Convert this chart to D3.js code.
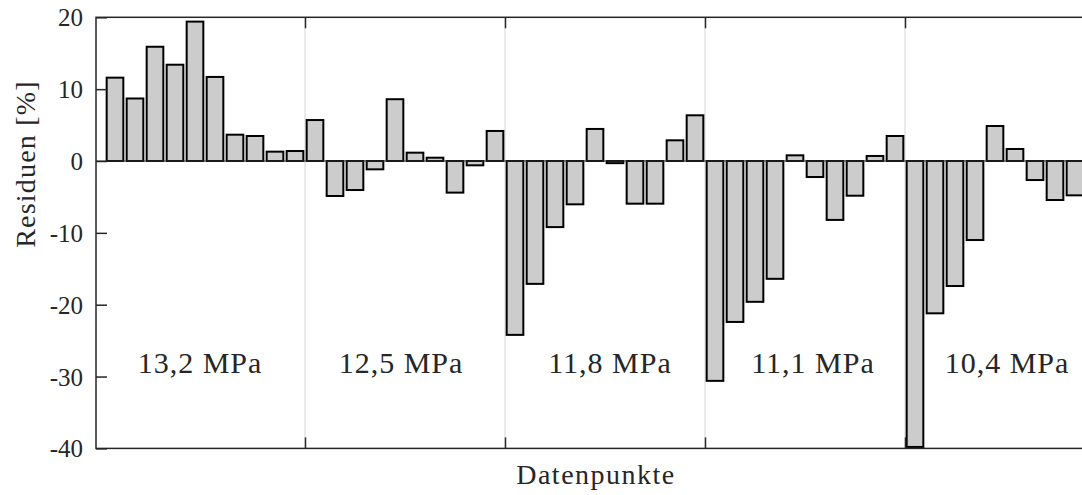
<!DOCTYPE html>
<html>
<head>
<meta charset="utf-8">
<script src="https://cdn.jsdelivr.net/npm/d3@7"></script>
<style>
  body { margin: 0; background: #fff; }
  svg { display: block; }
  svg text { font-family: "Liberation Serif", "DejaVu Serif", serif; }
</style>
</head>
<body>
<div class="canvas"></div>
<script>
// residuals per data point (%)
const residuals = [
  11.6, 8.7, 15.9, 13.4, 19.4, 11.7, 3.66, 3.48, 1.3, 1.39,
  5.7, -4.87, -4.04, -1.16, 8.6, 1.16, 0.46, -4.4, -0.6, 4.18,
  -24.2, -17.1, -9.2, -6.03, 4.46, -0.3, -5.94, -5.94, 2.88, 6.36,
  -30.6, -22.4, -19.6, -16.4, 0.79, -2.23, -8.2, -4.83, 0.7, 3.48,
  -39.8, -21.2, -17.4, -11.0, 4.87, 1.67, -2.65, -5.43, -4.78
];
const points = residuals.map((d, i) => i + 1);

const yTicks = [-40, -30, -20, -10, 0, 10, 20];
const groupBounds = [10.5, 20.5, 30.5, 40.5];
const groupLabels = ['13,2 MPa', '12,5 MPa', '11,8 MPa', '11,1 MPa', '10,4 MPa'];
const groupLabelX = [5.25, 15.3, 25.75, 35.9, 45.6];
const groupLabelY = -29.5;

const width = 1082, height = 495;
const margin = {top: 17.3, left: 96}
const plotRight = 1094, plotBottom = 448.4;
const serif = '"Liberation Serif", "DejaVu Serif", serif';

const svg = d3.select('.canvas')
  .append('svg')
  .attr('width', width)
  .attr('height', height);

const x = d3.scaleLinear().domain([0.05, 49.95]).range([margin.left, plotRight]);
const y = d3.scaleLinear().domain([-40, 20]).range([plotBottom, margin.top]);
const barW = x(0.833) - x(0);

// light separators between pressure groups
svg.append('g')
  .selectAll('line')
  .data(groupBounds)
  .enter().append('line')
  .attr('x1', d => x(d)).attr('x2', d => x(d))
  .attr('y1', margin.top).attr('y2', plotBottom)
  .attr('stroke', '#e3e3e3')
  .attr('stroke-width', 1.5);

// bars
svg.append('g')
  .selectAll('rect')
  .data(residuals)
  .enter().append('rect')
  .attr('x', (d, i) => x(points[i]) - barW / 2)
  .attr('width', barW)
  .attr('y', d => y(Math.max(d, 0)))
  .attr('height', d => Math.abs(y(d) - y(0)))
  .attr('fill', '#cccccc')
  .attr('stroke', '#000')
  .attr('stroke-width', 2);

// baseline
svg.append('line')
  .attr('x1', margin.left).attr('x2', plotRight)
  .attr('y1', y(0)).attr('y2', y(0))
  .attr('stroke', '#333')
  .attr('stroke-width', 1.2);

// axes
const styleAxis = g => {
  g.attr('font-family', null).attr('font-size', null);
  g.select('.domain').remove();
  g.selectAll('.tick line').attr('stroke', '#262626').attr('stroke-width', 1.5);
  g.selectAll('.tick text').attr('fill', '#262626');
}

svg.append('g')
  .attr('transform', `translate(${margin.left},0)`)
  .call(d3.axisLeft(y).tickValues(yTicks).tickSize(-11).tickPadding(13).tickFormat(d => String(d)))
  .call(styleAxis)
  .call(g => g.selectAll('.tick text')
    .style('font-family', serif)
    .style('font-size', '25px')
    .attr('dy', '0.34em'));

svg.append('g')
  .attr('transform', `translate(${plotRight},0)`)
  .call(d3.axisRight(y).tickValues(yTicks).tickSize(-11).tickFormat(''))
  .call(styleAxis);

svg.append('g')
  .attr('transform', `translate(0,${plotBottom})`)
  .call(d3.axisBottom(x).tickValues(groupBounds).tickSize(-11).tickFormat(''))
  .call(styleAxis);

svg.append('g')
  .attr('transform', `translate(0,${margin.top})`)
  .call(d3.axisTop(x).tickValues(groupBounds).tickSize(-11).tickFormat(''))
  .call(styleAxis);

// box
svg.append('rect')
  .attr('x', margin.left).attr('y', margin.top)
  .attr('width', plotRight - margin.left)
  .attr('height', plotBottom - margin.top)
  .attr('fill', 'none')
  .attr('stroke', '#262626')
  .attr('stroke-width', 1.5);

// group annotations
svg.append('g')
  .selectAll('text')
  .data(groupLabels)
  .enter().append('text')
  .attr('x', (d, i) => x(groupLabelX[i]))
  .attr('y', y(groupLabelY))
  .attr('text-anchor', 'middle')
  .attr('font-size', 30)
  .attr('letter-spacing', 1)
  .attr('fill', '#262626')
  .text(d => d);

// axis titles
svg.append('text')
  .attr('transform', 'translate(35,164) rotate(-90)')
  .attr('text-anchor', 'middle')
  .attr('font-size', 28)
  .attr('letter-spacing', 1.2)
  .attr('fill', '#262626')
  .text('Residuen [%]');

svg.append('text')
  .attr('x', 596).attr('y', 484)
  .attr('text-anchor', 'middle')
  .attr('font-size', 28)
  .attr('letter-spacing', 1.5)
  .attr('fill', '#262626')
  .text('Datenpunkte');
</script>
</body>
</html>
